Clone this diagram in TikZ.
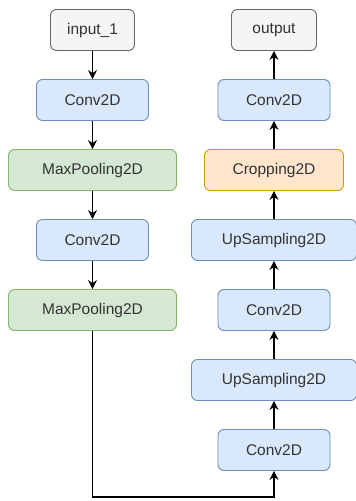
\documentclass[tikz,border=0pt]{standalone}
\usepackage{fontspec}
\setmainfont{Liberation Sans}
\usetikzlibrary{arrows.meta}
\definecolor{grayfill}{HTML}{F5F5F5}
\definecolor{graydraw}{HTML}{666666}
\definecolor{bluefill}{HTML}{DAE8FC}
\definecolor{bluedraw}{HTML}{6C8EBF}
\definecolor{greenfill}{HTML}{D5E8D4}
\definecolor{greendraw}{HTML}{82B366}
\definecolor{orangefill}{HTML}{FFE6CC}
\definecolor{orangedraw}{HTML}{D79B00}
\definecolor{labeltext}{HTML}{333333}
\tikzset{
  layer/.style={rectangle, rounded corners=6pt, line width=0.9pt,
    minimum height=41pt, inner sep=0pt, text=labeltext,
    font=\fontsize{15.5}{18}\selectfont},
  iobox/.style={layer, fill=grayfill, draw=graydraw},
  convbox/.style={layer, fill=bluefill, draw=bluedraw},
  poolbox/.style={layer, fill=greenfill, draw=greendraw},
  cropbox/.style={layer, fill=orangefill, draw=orangedraw},
  flow/.style={draw=black, line width=1.6pt,
    -{Stealth[length=9pt,width=9pt,inset=3pt]}}
}
\begin{document}
\begin{tikzpicture}[x=1pt,y=-1pt]
\useasboundingbox (0,0) rectangle (356,501);
% encoder column
\node[iobox,   minimum width=84pt]  (in)  at (92.5,30)  {input\_1};
\node[convbox, minimum width=112pt] (c1)  at (92.5,100) {Conv2D};
\node[poolbox, minimum width=168pt] (p1)  at (92.5,170) {MaxPooling2D};
\node[convbox, minimum width=112pt] (c2)  at (92.5,240) {Conv2D};
\node[poolbox, minimum width=168pt] (p2)  at (92.5,310) {MaxPooling2D};
% decoder column
\node[convbox, minimum width=112pt] (c3)  at (274,450) {Conv2D};
\node[convbox, minimum width=165pt] (u1)  at (274,380) {UpSampling2D};
\node[convbox, minimum width=112pt] (c4)  at (274,310) {Conv2D};
\node[convbox, minimum width=165pt] (u2)  at (274,240) {UpSampling2D};
\node[cropbox, minimum width=139pt] (cr)  at (274,170) {Cropping2D};
\node[convbox, minimum width=112pt] (c5)  at (274,100) {Conv2D};
\node[iobox,   minimum width=85pt]  (out) at (274,30)  {output};
% skip path along the bottom edge
\coordinate (bend) at (92.5,497);
% connections
\draw[flow] (in) -- (c1);
\draw[flow] (c1) -- (p1);
\draw[flow] (p1) -- (c2);
\draw[flow] (c2) -- (p2);
\draw[flow] (p2.south) -- (bend) -| (c3.south);
\draw[flow] (c3) -- (u1);
\draw[flow] (u1) -- (c4);
\draw[flow] (c4) -- (u2);
\draw[flow] (u2) -- (cr);
\draw[flow] (cr) -- (c5);
\draw[flow] (c5) -- (out);
\end{tikzpicture}
\end{document}
